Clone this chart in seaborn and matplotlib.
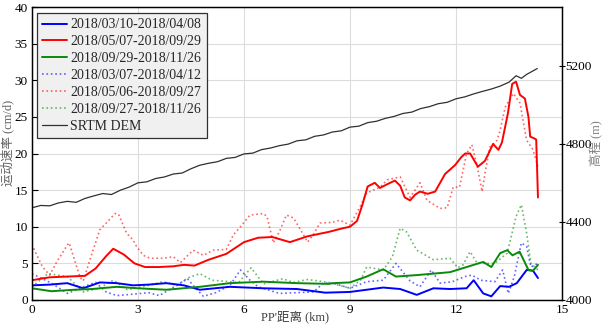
import matplotlib
matplotlib.use("Agg")
import matplotlib.pyplot as plt
import seaborn as sns
import numpy as np

sns.set_theme(style="white")
plt.rcParams['font.family'] = ['Liberation Serif', 'Noto Sans CJK SC']

# ---- data ----
red_x = [0, 0.5, 1.0, 1.5, 1.8, 2.1, 2.3, 2.6, 2.9, 3.2, 3.6, 4.0, 4.3, 4.6, 5.0, 5.5, 6.0, 6.4, 6.8, 7.3, 7.8, 8.4,
         8.8, 9.0, 9.2, 9.35, 9.5, 9.7, 9.85, 10.05, 10.27, 10.42, 10.55, 10.7, 10.85, 10.98, 11.2, 11.41, 11.69,
         11.97, 12.15, 12.26, 12.4, 12.62, 12.82, 13.05, 13.2, 13.3, 13.47, 13.59, 13.7, 13.81, 13.95, 14.05,
         14.1, 14.2, 14.27, 14.32]
red_y = [2.7, 3.1, 3.2, 3.3, 4.3, 6.0, 7.0, 6.2, 5.0, 4.5, 4.5, 4.6, 4.8, 4.7, 5.5, 6.3, 7.9, 8.5, 8.6, 7.9, 8.7, 9.3,
         9.8, 10.0, 10.8, 13.0, 15.5, 16.0, 15.3, 15.8, 16.3, 15.6, 14.0, 13.6, 14.4, 14.8, 14.5, 14.8, 17.2,
         18.4, 19.5, 20.0, 20.0, 18.2, 19.0, 21.3, 20.5, 21.5, 25.5, 29.5, 29.8, 28.0, 27.5, 25.0,
         22.3, 22.1, 21.9, 14.0]

redd_x = [0, 0.05, 0.3, 0.5, 0.7, 1.0, 1.05, 1.36, 1.45, 1.64, 1.92, 2.1, 2.35, 2.45, 2.68, 2.86, 2.96, 3.15,
          3.34, 3.7, 4.0, 4.2, 4.56, 4.85, 5.13, 5.5, 5.7, 5.9, 6.17, 6.55, 6.65, 6.83, 7.0, 7.2, 7.4, 7.6,
          7.8, 7.97, 8.15, 8.5, 8.72, 9.0, 9.28, 9.47, 9.85, 10.05, 10.42, 10.7, 10.98, 11.18, 11.55, 11.75,
          11.92, 12.1, 12.3, 12.45, 12.6, 12.74, 12.82, 12.96, 13.16, 13.25, 13.39, 13.62, 13.81, 14.0, 14.18,
          14.32]
redd_y = [6.4, 7.0, 4.5, 3.4, 5.2, 7.5, 7.8, 3.1, 2.6, 5.5, 9.6, 10.5, 11.8, 11.7, 9.1, 8.2, 7.3, 6.1,
          5.7, 5.7, 5.9, 5.1, 6.8, 6.1, 6.8, 6.9, 8.9, 10.0, 11.6, 11.8, 11.4, 7.8, 9.3, 11.6, 11.2, 9.6,
          7.9, 9.0, 10.5, 10.6, 10.9, 10.2, 12.7, 14.6, 15.4, 16.4, 16.8, 14.0, 16.0, 13.6, 12.5, 12.6,
          15.4, 15.4, 20.0, 21.2, 18.2, 14.8, 17.3, 20.9, 21.8, 23.2, 26.3, 28.2, 26.9, 21.8, 20.5,
          18.2]

blue_x = [0, 0.5, 1.0, 1.45, 1.92, 2.4, 2.86, 3.3, 3.8, 4.3, 4.75, 5.6, 6.55, 7.5, 8.3, 9.0, 9.47, 9.94, 10.42,
          10.89, 11.36, 11.83, 12.3, 12.5, 12.77, 13.0, 13.25, 13.5, 13.72, 14.0, 14.18, 14.32]
blue_y = [2.0, 2.1, 2.3, 1.6, 2.4, 2.3, 2.0, 2.1, 2.3, 2.0, 1.4, 1.8, 1.6, 1.5, 1.0, 1.1, 1.4, 1.7, 1.5,
          0.7, 1.6, 1.5, 1.6, 2.7, 0.9, 0.5, 1.9, 1.8, 2.3, 4.1, 4.0, 3.0]

green_x = [0, 0.55, 1.2, 1.7, 2.4, 3.0, 3.8, 4.75, 5.6, 6.55, 7.5, 8.4, 8.52, 9.0, 9.47, 9.94, 10.3, 10.89,
           11.36, 11.83, 12.3, 12.77, 13.0, 13.25, 13.45, 13.6, 13.8, 14.05, 14.18, 14.32]
green_y = [1.6, 1.2, 1.4, 1.5, 1.8, 1.6, 1.4, 1.8, 2.3, 2.5, 2.3, 2.2, 2.3, 2.4, 3.2, 4.2, 3.2, 3.4,
           3.6, 3.8, 4.5, 5.2, 4.5, 6.4, 6.8, 6.1, 6.6, 4.1, 4.0, 4.8]

blued_x = [0, 0.55, 1.0, 1.45, 1.8, 2.1, 2.4, 2.86, 3.3, 3.6, 4.1, 4.4, 4.6, 4.85, 5.2, 5.6, 5.9, 6.17, 6.4, 7.0,
           7.97, 8.24, 8.52, 9.0, 9.47, 9.94, 10.3, 10.7, 10.98, 11.3, 11.55, 11.9, 12.25, 12.45, 12.7, 13.1,
           13.32, 13.48, 13.65, 13.85, 14.0, 14.12, 14.32]
blued_y = [3.6, 2.3, 0.9, 1.8, 2.4, 1.1, 0.6, 0.8, 1.0, 0.6, 2.0, 2.9, 1.8, 0.5, 1.0, 2.0, 4.1, 2.7, 1.8, 0.9,
           1.1, 2.3, 2.3, 1.6, 2.5, 2.7, 5.0, 2.6, 1.8, 4.1, 2.3, 2.5, 3.2, 3.4, 2.7, 2.5,
           4.1, 0.9, 3.2, 7.8, 7.3, 4.5, 5.0]

greend_x = [0, 0.45, 1.0, 1.45, 1.9, 2.3, 2.7, 3.3, 3.7, 4.1, 4.4, 4.75, 5.1, 5.85, 6.2, 6.55, 7.1, 7.4,
            7.8, 8.4, 9.0, 9.3, 9.47, 9.94, 10.2, 10.42, 10.6, 10.89, 11.36, 11.6, 11.83, 12.05, 12.2, 12.4,
            12.6, 13.1, 13.45, 13.7, 13.85, 14.0, 14.12, 14.32]
greend_y = [1.8, 3.6, 3.2, 1.1, 1.6, 2.7, 1.4, 2.0, 2.5, 2.0, 3.0, 3.6, 2.7, 2.4, 4.4, 2.2, 2.9, 2.4,
            2.8, 2.4, 1.6, 2.7, 4.5, 4.1, 5.9, 9.8, 9.3, 6.8, 5.5, 5.6, 5.7, 4.4, 4.8, 6.6,
            5.0, 5.0, 6.4, 11.4, 13.0, 9.1, 5.0, 4.1]

dem_x = [0, 0.25, 0.5, 0.75, 1.0, 1.25, 1.5, 1.75, 2.0, 2.25, 2.5, 2.75, 3.0, 3.25, 3.5, 3.75, 4.0, 4.25, 4.5,
         4.75, 5.0, 5.25, 5.5, 5.75, 6.0, 6.25, 6.5, 6.75, 7.0, 7.25, 7.5, 7.75, 8.0, 8.25, 8.5, 8.75, 9.0,
         9.25, 9.5, 9.75, 10.0, 10.25, 10.5, 10.75, 11.0, 11.25, 11.5, 11.75, 12.0, 12.25, 12.5, 12.75, 13.0,
         13.25, 13.5, 13.7, 13.85, 14.0, 14.15, 14.3]
dem_y = [4472, 4484, 4482, 4497, 4505, 4500, 4520, 4533, 4545, 4540, 4562, 4578, 4600, 4605, 4622, 4630, 4645,
         4650, 4672, 4690, 4700, 4708, 4725, 4730, 4748, 4752, 4770, 4778, 4790, 4798, 4815, 4820, 4838, 4845,
         4860, 4866, 4885, 4890, 4908, 4915, 4930, 4940, 4955, 4962, 4980, 4990, 5005, 5012, 5030, 5040, 5055,
         5068, 5080, 5095, 5115, 5148, 5135, 5155, 5170, 5185]

labels = ["2018/03/10-2018/04/08", "2018/05/07-2018/09/29", "2018/09/29-2018/11/26",
          "2018/03/07-2018/04/12", "2018/05/06-2018/09/27", "2018/09/27-2018/11/26", "SRTM DEM"]
x_ticks = [0, 3, 6, 9, 12, 15]
y_ticks = [0, 5, 10, 15, 20, 25, 30, 35, 40]
y2_ticks = [4000, 4400, 4800, 5200]

# ---- plot ----
fig = plt.figure(figsize=(6.04, 3.28), dpi=100)
ax = fig.add_axes([32/604, 28/328, 530/604, 293/328])
ax2 = ax.twinx()

C_BLUE, C_RED, C_GREEN = "#0000ff", "#ff0000", "#0a8a0a"
series = [
    (blue_x, blue_y, C_BLUE, "-", 1.4, 1.0),
    (red_x, red_y, C_RED, "-", 1.4, 1.0),
    (green_x, green_y, C_GREEN, "-", 1.4, 1.0),
    (blued_x, blued_y, C_BLUE, ":", 1.2, 0.6),
    (redd_x, redd_y, C_RED, ":", 1.2, 0.6),
    (greend_x, greend_y, C_GREEN, ":", 1.2, 0.6),
]
from matplotlib.lines import Line2D
order = [3, 4, 5, 0, 1, 2]
for i in order:
    xs, ys, c, ls, lw, a = series[i]
    sns.lineplot(x=xs, y=ys, ax=ax, color=c, linestyle=ls, linewidth=lw, alpha=a,
                 sort=False, estimator=None)
handles = []
for i in range(6):
    xs, ys, c, ls, lw, a = series[i]
    handles.append(Line2D([], [], color=c, linestyle=ls, linewidth=lw, alpha=a))

sns.lineplot(x=dem_x, y=dem_y, ax=ax2, color="#303030", linewidth=0.9, sort=False, estimator=None)
handles.append(Line2D([], [], color="#303030", linewidth=0.9))

ax.set_xlim(0, 15)
ax.set_ylim(0, 40)
ax2.set_ylim(4000, 5500)
ax.set_xticks(x_ticks)
ax.set_yticks(y_ticks)
ax2.set_yticks(y2_ticks)
ax.grid(True, color="#dcdcdc", linewidth=0.8)
ax2.grid(False)
ax.set_axisbelow(True)

for a_ in (ax, ax2):
    for s in a_.spines.values():
        s.set_color("black")
        s.set_linewidth(0.9)

ax.tick_params(axis="both", direction="in", length=4, width=0.8, labelsize=9.5, colors="black", pad=3)
ax2.tick_params(axis="y", direction="inout", length=5, width=0.8, labelsize=9.5, colors="black", pad=0)
for t in ax.get_xticklabels() + ax.get_yticklabels() + ax2.get_yticklabels():
    t.set_family("Liberation Serif")

cjk = ['Liberation Serif', 'Noto Sans CJK SC']
ax.set_xlabel("PP'距离 (km)", family=cjk, fontsize=9, color="#404040", va="center")
ax.set_ylabel("运动速率 (cm/d)", family=cjk, fontsize=9, color="#606060", va="center")
ax2.set_ylabel("高程 (m)", family=cjk, fontsize=9, color="#808080", va="center")
ax.xaxis.set_label_coords(0.496, -0.058)
ax.yaxis.set_label_coords(-0.046, 0.536)
ax2.yaxis.set_label_coords(1.066, 0.536)

leg = ax2.legend(handles, labels, loc="upper left", bbox_to_anchor=(0.009, 0.98), frameon=True,
                 fancybox=False, prop={"family": "Liberation Serif", "size": 10},
                 handlelength=1.75, handletextpad=0.25, labelspacing=0.28, borderpad=0.4, borderaxespad=0.0)
leg.get_frame().set_facecolor("#f0f0f0")
leg.get_frame().set_edgecolor("#303030")
leg.get_frame().set_linewidth(0.9)
leg.get_frame().set_alpha(1)

fig.savefig("out.png", dpi=100)
